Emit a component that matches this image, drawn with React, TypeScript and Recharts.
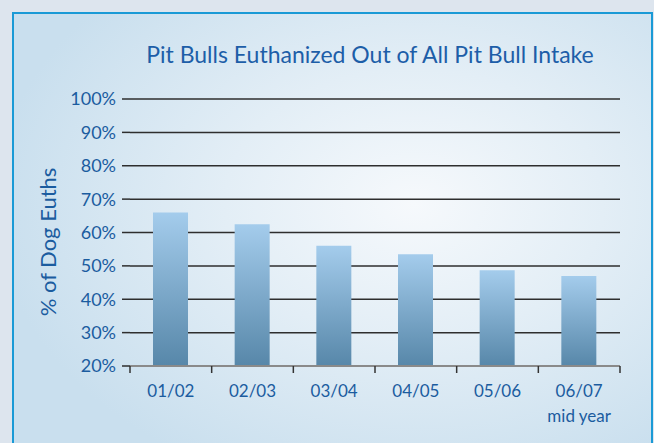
import { BarChart, Bar, XAxis, YAxis, CartesianGrid } from "recharts";

const seasons = ["01/02", "02/03", "03/04", "04/05", "05/06", "06/07"];
const seasonNotes = ["", "", "", "", "", "mid year"];
const euthPct = [66, 62.5, 56, 53.5, 48.7, 47];
const yTicks = [20, 30, 40, 50, 60, 70, 80, 90, 100];
const edgeTicks = [0, 1, 2, 3, 4, 5, 6];

const data = seasons.map((s, i) => ({ season: s, note: seasonNotes[i], pct: euthPct[i] }));

const textBlue = "#1b5c9f";
const font = "Lato, 'Open Sans', sans-serif";

function SeasonTick(props: any) {
  const { x, y, payload, index } = props;
  const note = seasonNotes[index];
  return (
    <text x={x} y={y} textAnchor="middle" fill={textBlue} fontSize={17} fontFamily={font}>
      <tspan x={x} dy="0.71em">{payload.value}</tspan>
      {note ? <tspan x={x} dy="1.45em" fontSize={17}>{note}</tspan> : null}
    </text>
  );
}

// boundary ticks only need the tick line, no label
const EmptyTick = () => <g />;

export default function App() {
  return (
    <div style={{ position: "absolute", left: 0, top: 0, width: 654, height: 443, overflow: "hidden", background: "#dde5ee" }}>
      <div
        style={{
          position: "absolute",
          left: 12,
          top: 12,
          width: 637,
          height: 460,
          border: "2px solid #1a9ad6",
          background: "radial-gradient(ellipse 420px 300px at 400px 190px, #f6f9fc 0%, #e3eef6 45%, #c9dfee 100%)",
        }}
      />
      <div
        style={{
          position: "absolute",
          left: 0,
          width: 740,
          top: 40,
          textAlign: "center",
          fontFamily: font,
          fontSize: 23,
          color: "#1d5ea8",
          whiteSpace: "nowrap",
        }}
      >
        Pit Bulls Euthanized Out of All Pit Bull Intake
      </div>
      <div
        style={{
          position: "absolute",
          left: 47,
          top: 242,
          transform: "translate(-50%, -50%) rotate(-90deg)",
          fontFamily: font,
          fontSize: 22,
          color: textBlue,
          whiteSpace: "nowrap",
        }}
      >
        % of Dog Euths
      </div>
      <div style={{ position: "absolute", left: 0, top: 0 }}>
        <BarChart width={654} height={443} data={data} margin={{ top: 99, right: 34, bottom: 0, left: 70 }}>
          <defs>
            <linearGradient id="barFill" x1="0" y1="0" x2="0" y2="1">
              <stop offset="0%" stopColor="#a4ccec" />
              <stop offset="100%" stopColor="#5787a9" />
            </linearGradient>
          </defs>
          <CartesianGrid xAxisId="cat" vertical={false} stroke="#2e2e2e" strokeWidth={1.5} />
          <XAxis
            xAxisId="cat"
            dataKey="season"
            tick={<SeasonTick />}
            tickLine={false}
            tickSize={0}
            tickMargin={18}
            axisLine={false}
            height={76}
            interval={0}
          />
          {/* default-id axis sits right on the plot edge: baseline + boundary ticks */}
          <XAxis
            type="number"
            dataKey={() => 0}
            domain={[0, 6]}
            ticks={edgeTicks}
            tick={EmptyTick}
            tickLine={{ stroke: "#333", strokeWidth: 1.5 }}
            tickSize={7}
            axisLine={{ stroke: "#8a8a8a", strokeWidth: 2 }}
            height={1}
            interval={0}
          />
          <YAxis
            domain={[20, 100]}
            ticks={yTicks}
            allowDataOverflow
            tickFormatter={(v: number) => `${v}%`}
            tick={{ fill: textBlue, fontSize: 18, fontFamily: font }}
            tickLine={{ stroke: "#2e2e2e", strokeWidth: 1.5 }}
            tickSize={8}
            tickMargin={6}
            axisLine={false}
            width={60}
          />
          <Bar xAxisId="cat" dataKey="pct" fill="url(#barFill)" barSize={35} isAnimationActive={false} />
        </BarChart>
      </div>
    </div>
  );
}
